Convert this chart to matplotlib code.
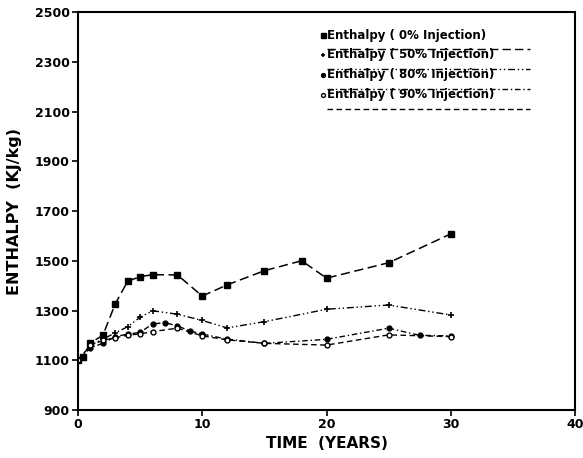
import matplotlib.pyplot as plt

# enthalpy vs time for each injection rate
t0 = [0, 0.4, 1, 2, 3, 4, 5, 6, 8, 10, 12, 15, 18, 20, 25, 30]
h0 = [1102, 1115, 1170, 1200, 1327, 1418, 1436, 1444, 1443, 1358, 1403, 1460, 1500, 1430, 1492, 1608]

t50 = [0, 1, 2, 3, 4, 5, 6, 8, 10, 12, 15, 20, 25, 30]
h50 = [1100, 1160, 1185, 1210, 1235, 1273, 1299, 1285, 1260, 1230, 1255, 1305, 1322, 1282]

t80 = [0, 1, 2, 3, 4, 5, 6, 7, 8, 9, 10, 12, 15, 20, 25, 27.5, 30]
h80 = [1100, 1150, 1168, 1195, 1205, 1212, 1246, 1251, 1238, 1218, 1205, 1185, 1168, 1184, 1229, 1200, 1198]

t90 = [0, 1, 2, 3, 4, 5, 6, 8, 10, 12, 15, 20, 25, 30]
h90 = [1100, 1160, 1180, 1190, 1201, 1206, 1215, 1229, 1198, 1182, 1168, 1161, 1202, 1195]

labels = ["Enthalpy ( 0% Injection)", "Enthalpy ( 50% Injection)",
          "Enthalpy ( 80% Injection)", "Enthalpy ( 90% Injection)"]

plt.rcParams['font.family'] = 'DejaVu Sans'
plt.rcParams['font.weight'] = 'bold'
plt.rcParams['axes.labelweight'] = 'bold'

fig = plt.figure(figsize=(5.83, 4.58), dpi=100)
ax = fig.add_axes([0.1338, 0.1048, 0.8525, 0.869])

styles = [
    dict(marker='s', ms=4.5, mfc='k', ls=(0, (6, 3)), lw=1.1),
    dict(marker='+', ms=4, mew=1.2, ls=(0, (5, 2, 1, 2, 1, 2)), lw=1.0),
    dict(marker='o', ms=3.5, mfc='k', ls=(0, (4, 2, 1, 2)), lw=1.0),
    dict(marker='o', ms=3.5, mfc='white', ls=(0, (4, 2.5)), lw=1.0),
]
series = [(t0, h0), (t50, h50), (t80, h80), (t90, h90)]
for (t, h), st in zip(series, styles):
    ax.plot(t, h, color='k', **st)

ax.set_xlim(0, 40)
ax.set_ylim(900, 2500)
ax.set_xticks([0, 10, 20, 30, 40])
ax.set_yticks(range(900, 2501, 200))
ax.tick_params(direction='out', length=4, width=1.2, labelsize=9, pad=2)
for sp in ax.spines.values():
    sp.set_linewidth(1.5)

ax.set_xlabel("TIME  (YEARS)", fontsize=11, labelpad=3)
ax.set_ylabel("ENTHALPY  (KJ/kg)", fontsize=11.5, labelpad=9)

# legend drawn by hand: marker, text, and line sample underneath
leg_y = [0.942, 0.892, 0.842, 0.792]
for i, (lab, st) in enumerate(zip(labels, styles)):
    y = leg_y[i]
    ax.plot([0.493], [y], transform=ax.transAxes, color='k', marker=st['marker'],
            ms=st['ms'] * 0.8, mfc=st.get('mfc', 'k'), mew=st.get('mew', 1.0),
            ls='none', clip_on=False)
    ax.text(0.501, y, lab, transform=ax.transAxes, fontsize=8.5, va='center', ha='left')
    ax.plot([0.501, 0.909], [y - 0.036, y - 0.036], transform=ax.transAxes,
            color='k', ls=st['ls'], lw=1.0)

fig.savefig('out.png', dpi=100)
